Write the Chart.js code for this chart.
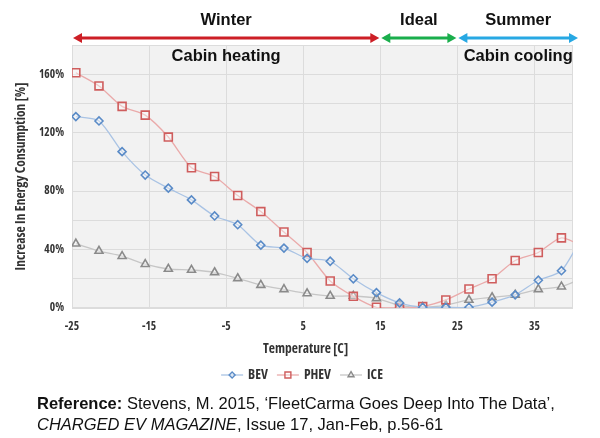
<!DOCTYPE html>
<html>
<head>
<meta charset="utf-8">
<script src="https://cdn.jsdelivr.net/npm/chart.js@4.4.0/dist/chart.umd.min.js"></script>
<style>
  html, body { margin: 0; padding: 0; background: #fff; }
  #wrap { position: relative; width: 600px; height: 438px; overflow: hidden; }
  #chart { position: absolute; left: 0; top: 0; }
  .ref { position: absolute; left: 37px; font-family: "Liberation Sans", Arial, sans-serif; font-size: 16.5px; color: #111; white-space: nowrap; }
</style>
</head>
<body>
<div id="wrap">
  <canvas id="chart" width="600" height="438"></canvas>
  <div class="ref" style="top:394px"><b>Reference:</b> Stevens, M. 2015, ‘FleetCarma Goes Deep Into The Data’,</div>
  <div class="ref" style="top:415px"><i>CHARGED EV MAGAZINE</i>, Issue 17, Jan-Feb, p.56-61</div>
</div>
<script>
/* data */
const temps = [-24.5, -21.5, -18.5, -15.5, -12.5, -9.5, -6.5, -3.5, -0.5, 2.5, 5.5, 8.5,
               11.5, 14.5, 17.5, 20.5, 23.5, 26.5, 29.5, 32.5, 35.5, 38.5, 41.5];
const bev  = [131, 128, 107, 91, 82, 74, 63, 57, 43, 41, 34, 32, 20, 10.5, 3.5, 0.5, 0.5, 0.5, 4, 9, 19, 25.5, 52];
const phev = [161, 152, 138, 132, 117, 96, 90, 77, 66, 52, 38, 18.5, 8, 0.5, 0, 1, 5.5, 13, 20, 32.5, 38, 48, 41.5];
const ice  = [44, 39, 35.5, 30, 26.7, 26, 24.4, 20.3, 15.7, 12.8, 10, 8.2, 8.2, 6.6, 1.8, 0.5, 2, 5.5, 7.3, 9, 12.8, 14.6, 21];

const xTickLabels = [-25, -15, -5, 5, 15, 25, 35];
const yTickLabels = [0, 40, 80, 120, 160];

const zoneNames = ["Winter", "Ideal", "Summer"];
const zoneNotes = ["Cabin heating", "", "Cabin cooling"];
const zoneFrom  = [-25, 15, 25];
const zoneTo    = [15, 25, 40];

const SANS = "'Liberation Sans', Arial, sans-serif";
const zoneColors = ["#cd1f26", "#1aae4c", "#27a8e3"];

// the axis text in the original is a condensed bold face; find the narrowest one we have
function pickNarrow() {
  const c = document.createElement("canvas").getContext("2d");
  const sample = "Increase In Energy Consumption [%]";
  const fams = ["Liberation Sans Narrow", "DejaVu Sans Condensed", "DejaVu Sans", "Open Sans", "Noto Sans", "Roboto", "Liberation Sans"];
  let best = null;
  fams.forEach(f => {
    ["condensed bold", "bold"].forEach(wt => {
      c.font = `normal ${wt} 13px '${f}'`;
      const w = c.measureText(sample).width;
      if (!best || w < best.w) best = { family: `'${f}', sans-serif`, weight: wt, w };
    });
  });
  best.size = Math.max(11, Math.min(15, Math.round(13 * 190 / best.w * 2) / 2));
  return best;
}
const NF = pickNarrow();
const tickSize = Math.round(NF.size * 0.86 * 2) / 2;
const narrowFont = (size) => ({ family: NF.family, weight: NF.weight, size: size || NF.size });
const narrowStr = (size) => `normal ${NF.weight} ${size || NF.size}px ${NF.family}`;

function pts(values) {
  return temps.map((t, i) => ({ x: t, y: values[i] }));
}

function makeSet(label, values, marker, line, style, radius) {
  return {
    label, data: pts(values),
    borderColor: line, borderWidth: 1.3,
    pointStyle: style, pointRadius: radius, pointHoverRadius: radius,
    pointBorderColor: marker, pointBackgroundColor: "rgba(255,255,255,0.35)",
    pointBorderWidth: 1.6, tension: 0.25
  };
}

const datasets = [
  makeSet("BEV", bev, "#5a8bc7", "#a9c3e4", "rectRot", 4),
  makeSet("PHEV", phev, "#cf5d5d", "#eaaaaa", "rect", 5.6),
  makeSet("ICE", ice, "#8a8a8a", "#c6c6c6", "triangle", 4.6)
];

const plotBg = {
  id: "plotBg",
  beforeDraw(chart) {
    const { ctx, chartArea: a } = chart;
    ctx.save();
    ctx.fillStyle = "#f2f2f2";
    ctx.fillRect(a.left, a.top, a.right - a.left, a.bottom - a.top);
    ctx.restore();
  },
  beforeDatasetsDraw(chart) {
    const { ctx, chartArea: a } = chart;
    ctx.save();
    ctx.strokeStyle = "#dcdcdc";
    ctx.lineWidth = 1;
    ctx.strokeRect(a.left + 0.5, a.top + 0.5, a.right - a.left - 1, a.bottom - a.top - 1);
    ctx.restore();
  }
};

function arrow(ctx, x1, x2, y, color) {
  const h = 9, w = 5;
  ctx.strokeStyle = color;
  ctx.fillStyle = color;
  ctx.lineWidth = 3;
  ctx.beginPath();
  ctx.moveTo(x1 + h - 1, y);
  ctx.lineTo(x2 - h + 1, y);
  ctx.stroke();
  ctx.beginPath();
  ctx.moveTo(x1, y); ctx.lineTo(x1 + h, y - w); ctx.lineTo(x1 + h, y + w); ctx.closePath();
  ctx.fill();
  ctx.beginPath();
  ctx.moveTo(x2, y); ctx.lineTo(x2 - h, y - w); ctx.lineTo(x2 - h, y + w); ctx.closePath();
  ctx.fill();
}

const extras = {
  id: "extras",
  afterDraw(chart) {
    const { ctx, chartArea: a } = chart;
    const xs = chart.scales.x;
    ctx.save();

    // season bands on top
    zoneNames.forEach((name, i) => {
      const x1 = xs.getPixelForValue(zoneFrom[i]) + 1;
      let x2 = xs.getPixelForValue(zoneTo[i]) - 1;
      if (i === zoneNames.length - 1) x2 += 6;
      arrow(ctx, x1, x2, 38, zoneColors[i]);
      const mid = (x1 + x2) / 2;
      ctx.fillStyle = "#111";
      ctx.textAlign = "center";
      ctx.textBaseline = "middle";
      ctx.font = "bold 16.5px " + SANS;
      ctx.fillText(name, mid, 20);
      if (zoneNotes[i]) ctx.fillText(zoneNotes[i], mid, 56);
    });

    // x axis title
    ctx.fillStyle = "#333";
    ctx.font = narrowStr();
    ctx.fillText("Temperature [C]", (a.left + a.right) / 2 - 17, 349);

    // legend
    const iconW = 22, gap = 5, sep = 9;
    const widths = chart.data.datasets.map(d => iconW + gap + ctx.measureText(d.label).width);
    const total = widths.reduce((s, w) => s + w, 0) + sep * (widths.length - 1);
    let x = 302 - total / 2;
    const y = 375;
    chart.data.datasets.forEach((d, i) => {
      ctx.strokeStyle = d.borderColor;
      ctx.lineWidth = 1.3;
      ctx.beginPath();
      ctx.moveTo(x, y); ctx.lineTo(x + iconW, y);
      ctx.stroke();
      ctx.strokeStyle = d.pointBorderColor;
      ctx.fillStyle = d.pointBackgroundColor;
      ctx.lineWidth = 1.4;
      Chart.helpers.drawPoint(ctx, {
        pointStyle: d.pointStyle, radius: d.pointRadius * 0.75, rotation: 0, borderWidth: 1.4
      }, x + iconW / 2, y);
      ctx.fillStyle = "#333";
      ctx.textAlign = "left";
      ctx.fillText(d.label, x + iconW + gap, y + 0.5);
      x += widths[i] + sep;
    });
    ctx.restore();
  }
};

new Chart(document.getElementById("chart"), {
  type: "line",
  data: { datasets },
  plugins: [plotBg, extras],
  options: {
    responsive: false,
    animation: false,
    layout: { padding: { top: 45, left: 0, right: 27, bottom: 78 } },
    plugins: { legend: { display: false }, tooltip: { enabled: false } },
    scales: {
      x: {
        type: "linear", min: -25, max: 40,
        afterBuildTicks: s => { s.ticks = xTickLabels.map(v => ({ value: v })); },
        afterFit: s => { s.height = 52; },
        grid: { color: "#dcdcdc", drawTicks: false },
        border: { display: false },
        ticks: { color: "#333", padding: 12, font: narrowFont(tickSize) }
      },
      y: {
        min: 0, max: 180,
        ticks: {
          stepSize: 20, color: "#333", padding: 8,
          font: narrowFont(tickSize),
          callback: v => yTickLabels.includes(v) ? v + "%" : ""
        },
        afterFit: s => { s.width = 72; },
        grid: { color: "#dcdcdc", drawTicks: false },
        border: { display: false },
        title: {
          display: true, text: "Increase In Energy Consumption [%]", color: "#333",
          font: narrowFont(), padding: { top: 13, bottom: 0 }
        }
      }
    }
  }
});
</script>
</body>
</html>
